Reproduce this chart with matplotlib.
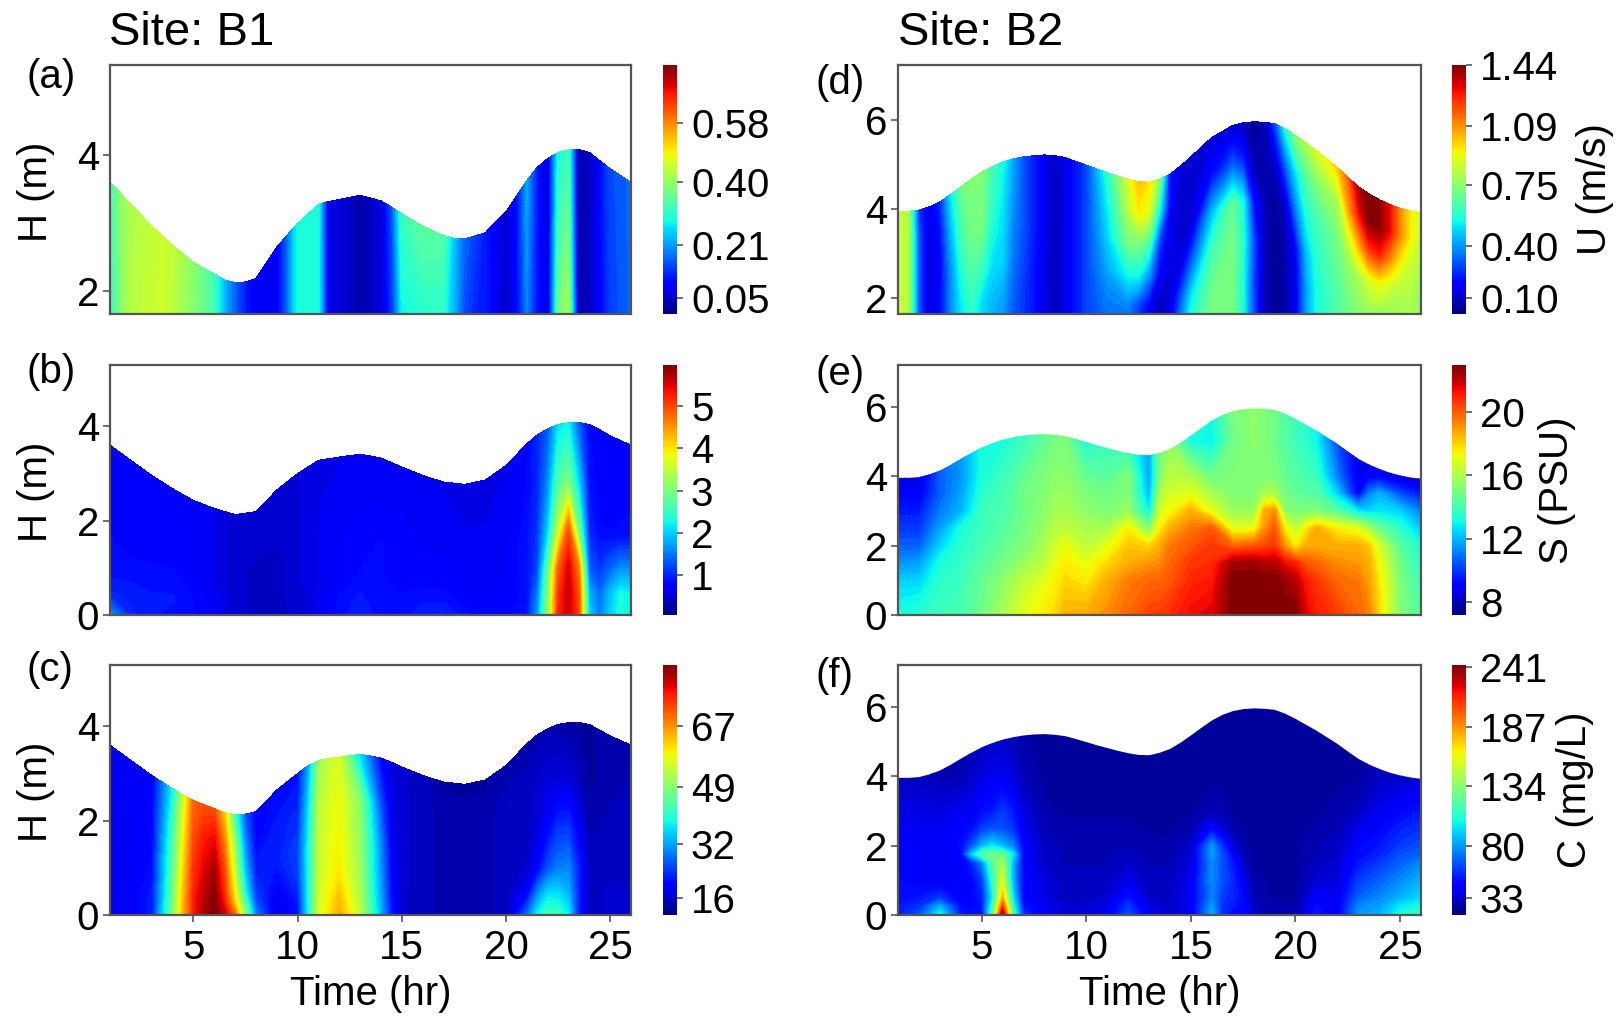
import numpy as np
import matplotlib
matplotlib.use('Agg')
import matplotlib.pyplot as plt
from matplotlib.patches import Polygon
from matplotlib.cm import ScalarMappable
from matplotlib.colors import Normalize

plt.rcParams['font.family'] = ['Liberation Sans', 'DejaVu Sans']

# half hourly water depth at both sites, t = 1 .. 26
depth_t = [1 + i * 0.5 for i in range(51)]
depth_b1 = [3.60, 3.44, 3.28, 3.12, 2.96, 2.82, 2.68, 2.55, 2.43, 2.34, 2.26, 2.17, 2.13, 2.14, 2.19, 2.38, 2.65,
            2.83, 3.00, 3.17, 3.28, 3.32, 3.35, 3.39, 3.41, 3.39, 3.33, 3.24, 3.14, 3.05, 2.96, 2.88, 2.82, 2.78,
            2.77, 2.79, 2.86, 2.99, 3.17, 3.40, 3.63, 3.82, 3.95, 4.04, 4.08, 4.08, 4.04, 3.93, 3.80, 3.70, 3.60]
depth_b2 = [3.95, 3.95, 3.97, 4.05, 4.16, 4.32, 4.50, 4.67, 4.83, 4.95, 5.05, 5.12, 5.17, 5.20, 5.21, 5.19, 5.15,
            5.07, 4.98, 4.89, 4.81, 4.73, 4.66, 4.61, 4.60, 4.67, 4.78, 4.96, 5.17, 5.39, 5.60, 5.76, 5.87, 5.93,
            5.95, 5.94, 5.91, 5.80, 5.65, 5.48, 5.31, 5.12, 4.93, 4.71, 4.50, 4.34, 4.21, 4.10, 4.02, 3.96, 3.92]

# panel a: one row per time, values from bed to surface (fraction of depth)
a_t = [1, 1.5, 2, 3, 3.5, 4, 5, 5.5, 6, 6.5, 7, 7.5, 8, 9, 9.5, 10, 11, 11.5, 12, 13, 14, 14.5, 15, 16, 17, 17.5,
       18, 19, 20, 20.5, 21, 21.5, 22, 22.5, 23, 23.5, 24, 25, 26]
a_sigma = [0, 1]
a_vals = [[.27, .32], [.38, .39], [.44, .42], [.45, .44], [.45, .45], [.42, .44], [.38, .39], [.36, .36], [.33, .32],
          [.23, .23], [.17, .17], [.11, .11], [.08, .08], [.08, .08], [.17, .17], [.29, .29], [.30, .29], [.06, .06],
          [.06, .06], [.03, .03], [.06, .06], [.11, .15], [.23, .32], [.24, .35], [.26, .34], [.21, .24], [.12, .17],
          [.11, .11], [.04, .05], [.08, .10], [.17, .22], [.10, .11], [.06, .06], [.42, .29], [.50, .32], [.03, .03],
          [.04, .04], [.13, .15], [.17, .17]]

# panel b
b_t = [1, 2, 3, 4, 5, 6, 7, 8, 9, 10, 11, 12, 13, 14, 15, 16, 17, 18, 19, 20, 21, 21.5, 22, 22.5, 23, 23.5, 24, 24.5,
       25, 25.5, 26]
b_sigma = [0, .12, .25, .45, .7, 1]
b_vals = [[1.7, 1.0, .85, .8, .75, .7], [1.0, .95, .85, .75, .75, .7], [.9, .9, .85, .75, .7, .7],
          [.85, .9, .85, .75, .7, .7], [.8, .8, .75, .7, .7, .65], [.7, .65, .6, .6, .6, .6],
          [.45, .45, .45, .45, .45, .45], [.4, .4, .4, .4, .45, .45], [.4, .4, .4, .4, .45, .45],
          [.45, .45, .5, .5, .5, .5], [.6, .6, .6, .6, .6, .6], [.85, .8, .7, .7, .65, .6],
          [.95, .9, .8, .75, .7, .6], [.85, .8, .8, .8, .7, .6], [.85, .8, .75, .75, .7, .6],
          [.95, .85, .75, .7, .65, .6], [1.0, .85, .75, .7, .65, .6], [.85, .75, .7, .65, .6, .6],
          [.7, .7, .65, .65, .6, .6], [.75, .7, .7, .7, .65, .6], [.9, .85, .85, .85, .8, .75],
          [1.7, 1.5, 1.2, 1.1, 1.0, 1.0], [3.2, 3.0, 2.8, 2.0, 1.6, 1.3], [5.2, 5.1, 4.8, 3.5, 2.7, 2.1],
          [5.6, 5.6, 5.5, 4.9, 3.0, 2.2], [5.0, 4.9, 4.6, 2.9, 2.0, 1.3], [2.0, 1.8, 1.3, 1.0, .85, .8],
          [1.5, 1.4, 1.1, .8, .75, .7], [2.0, 1.9, 1.4, .8, .7, .7], [2.3, 2.3, 1.7, .85, .7, .7],
          [2.2, 2.2, 1.7, .9, .7, .7]]

# panel c
c_t = [1, 2, 3, 3.5, 4, 4.5, 5, 5.5, 6, 6.5, 7, 7.5, 8, 9, 10, 10.5, 11, 11.5, 12, 13, 14, 14.5, 15, 16, 17, 18, 19,
       20, 21, 21.5, 22, 22.5, 23, 23.5, 24, 25, 26]
c_sigma = [0, .12, .25, .45, .7, 1]
c_vals = [[19, 19, 19, 19, 19, 19], [19, 19, 19, 19, 19, 19], [22, 22, 21, 20, 20, 19], [35, 34, 33, 32, 30, 28],
          [48, 47, 46, 44, 42, 38], [64, 63, 62, 60, 58, 54], [76, 76, 75, 74, 72, 70], [82, 81, 80, 78, 76, 72],
          [85, 85, 84, 82, 78, 72], [80, 76, 74, 72, 68, 62], [70, 62, 58, 54, 50, 42], [50, 44, 38, 34, 30, 26],
          [30, 26, 24, 22, 20, 20], [17, 18, 20, 22, 22, 20], [21, 22, 24, 25, 23, 21], [38, 38, 38, 38, 36, 32],
          [56, 55, 54, 54, 53, 50], [60, 59, 58, 57, 56, 54], [65, 63, 60, 59, 58, 56], [54, 52, 51, 50, 49, 36],
          [33, 32, 31, 30, 26, 20], [22, 21, 20, 19, 18, 17], [16, 16, 16, 16, 16, 16], [15, 15, 15, 15, 15, 15],
          [14, 14, 14, 14, 14, 13], [14, 14, 14, 14, 14, 13], [14, 14, 14, 14, 14, 13], [15, 15, 15, 15, 15, 14],
          [28, 20, 16, 15, 15, 14], [38, 30, 20, 17, 16, 14], [43, 36, 26, 20, 17, 14], [42, 36, 29, 24, 17, 14],
          [38, 33, 30, 24, 17, 13], [22, 22, 22, 19, 15, 13], [15, 15, 15, 14, 13, 13], [16, 16, 15, 15, 14, 14],
          [16, 16, 15, 15, 15, 14]]

# panel d
d_t = [1, 1.5, 2, 2.5, 3, 3.5, 4, 4.5, 5, 5.5, 6, 6.5, 7, 8, 8.5, 9, 10, 11, 12, 12.5, 13, 13.5, 14, 14.5, 15, 16, 17,
       17.5, 18, 18.5, 19, 19.5, 20, 20.5, 21, 22, 22.5, 23, 23.5, 24, 24.5, 25, 25.5, 26]
d_sigma = [.25, .4, .55, .7, .85, 1]
d_vals = [[.87, .87, .87, .87, .87, .87], [.80, .80, .80, .80, .80, .80], [.30, .30, .30, .30, .30, .25],
          [.12, .12, .12, .12, .12, .15], [.18, .18, .18, .18, .20, .25], [.37, .37, .37, .40, .45, .50],
          [.51, .51, .55, .60, .65, .70], [.55, .60, .65, .70, .72, .73], [.50, .50, .60, .70, .72, .73],
          [.42, .45, .50, .55, .60, .62], [.40, .42, .48, .50, .52, .55], [.30, .32, .35, .37, .40, .42],
          [.26, .26, .28, .30, .30, .30], [.14, .14, .14, .15, .15, .15], [.08, .08, .08, .08, .08, .10],
          [.14, .14, .14, .14, .14, .14], [.28, .28, .28, .28, .28, .28], [.32, .36, .42, .48, .52, .58],
          [.30, .38, .55, .72, .82, .88], [.22, .28, .55, .72, .95, 1.02], [.14, .18, .40, .65, .90, .96],
          [.08, .08, .18, .28, .55, .75], [.15, .12, .12, .14, .18, .20], [.40, .30, .14, .10, .10, .12],
          [.60, .50, .30, .12, .10, .10], [.72, .70, .62, .45, .20, .12], [.72, .72, .72, .68, .32, .10],
          [.55, .55, .58, .55, .25, .08], [.30, .28, .30, .20, .06, .04], [.08, .08, .08, .08, .06, .06],
          [.04, .04, .04, .04, .10, .28], [.06, .06, .06, .10, .30, .55], [.15, .15, .18, .35, .50, .75],
          [.40, .40, .45, .55, .65, .80], [.55, .55, .58, .62, .72, .88], [.65, .65, .68, .72, .80, 1.00],
          [.70, .70, .74, .85, 1.05, 1.15], [.75, .75, .80, 1.02, 1.25, 1.38], [.78, .78, .88, 1.20, 1.42, 1.44],
          [.78, .78, .92, 1.25, 1.42, 1.43], [.76, .76, .86, 1.10, 1.30, 1.30], [.78, .78, .82, .95, 1.10, 1.10],
          [.80, .80, .82, .85, .95, .95], [.75, .75, .75, .80, .85, .85]]

# panel e: one row per time, values at fixed heights
e_t = [1, 2, 3, 4, 5, 6, 7, 8, 8.5, 9, 10, 11, 12, 13, 13.5, 14, 15, 16, 17, 18, 18.5, 19, 19.5, 20, 20.5, 21, 22, 23,
       23.5, 24, 25, 26]
e_z = [0, 1, 1.5, 2, 2.5, 3, 3.5, 4, 5, 6]
e_vals = [[13.2, 12.4, 11.4, 10.6, 10, 9.5, 9, 8.7, 8.7, 8.7], [13.5, 12.4, 11.6, 10.6, 10, 9.5, 8.9, 8.4, 8.4, 8.4],
          [13.8, 13.5, 13.2, 12.4, 11.6, 11, 10.6, 10.6, 10.6, 10.6],
          [14.1, 13.8, 13.6, 13.5, 13.2, 11.9, 11.6, 11.4, 11.6, 11.6],
          [14.8, 14.6, 14.3, 14, 13.8, 13.8, 13.5, 13.2, 13.2, 13.2],
          [15.9, 15.4, 14.9, 14.6, 14.3, 14.1, 14, 13.8, 13.2, 13.2],
          [17, 16.3, 15.6, 15.1, 14.9, 14.8, 14.8, 14.6, 13.8, 13.8],
          [17.6, 17, 16.3, 15.9, 15.6, 15.4, 15.2, 15.1, 14.6, 14.6],
          [17.9, 17.5, 17, 16.7, 16.2, 15.7, 15.6, 15.4, 14.9, 14.9],
          [18.6, 17.9, 17.6, 17.1, 16.3, 15.9, 15.6, 15.4, 15.1, 15.1],
          [18.7, 17.6, 17, 16.3, 15.9, 15.4, 15.1, 14.6, 13.2, 13.2],
          [19.2, 18.6, 17.9, 17, 15.9, 15.1, 14.8, 14.4, 13.8, 13.8],
          [19.8, 19.4, 18.6, 18.2, 17.5, 15.6, 15.2, 15.1, 13.5, 13.5],
          [20.5, 19.8, 19, 17.9, 15.1, 12.9, 11.9, 11.6, 11.6, 11.6],
          [20.6, 19.8, 19.2, 18.6, 17.5, 16.7, 15.9, 15.1, 15.1, 15.1],
          [20.8, 20.1, 19.8, 19.5, 18.6, 17.3, 16.7, 16.3, 15.4, 15.4],
          [21.4, 20.9, 20.6, 20.1, 19.5, 18.6, 17, 16, 13.2, 13.2],
          [21.7, 21.1, 20.8, 20.6, 20.1, 17, 15.9, 14.8, 12.9, 13.2],
          [23, 23, 22.5, 19.8, 17, 15.6, 15.2, 15.1, 14.8, 15.1],
          [23, 23, 22.6, 20.1, 17.1, 15.6, 15.2, 15.1, 15.4, 15.4],
          [23, 23, 22.2, 20.3, 19, 18.6, 16, 15.1, 15.1, 15.1],
          [23, 23, 22.2, 20.6, 20.1, 19.2, 15.9, 15.1, 14.8, 14.8],
          [23, 22.6, 21.4, 19, 17.5, 15.4, 14.9, 14.6, 14.3, 14.3],
          [23, 22.2, 21, 17.5, 16.3, 15.1, 14.6, 14.3, 13.8, 13.8],
          [21.7, 21.1, 20.1, 18.6, 17.6, 15.1, 14.4, 14, 13.5, 13.5],
          [21.1, 20.6, 19.8, 18.7, 18.6, 15.1, 14.3, 13.8, 13, 13],
          [20.6, 19.8, 19.2, 18.6, 17.5, 14.3, 12.4, 11.1, 10.3, 10.3],
          [19.8, 19.5, 19, 18.6, 17, 12.7, 9, 8.7, 8.7, 8.7],
          [19.4, 18.9, 18.6, 18.2, 15.9, 12.4, 11.1, 9, 8.7, 8.7],
          [17.9, 17.6, 17.3, 16.7, 14.8, 12.7, 11.9, 9, 8.7, 8.7],
          [15.1, 15.1, 14.8, 14.4, 13.5, 12.4, 10.3, 8.4, 8.4, 8.4],
          [14.3, 13.8, 13.5, 13.2, 12.2, 11.1, 9.5, 7.9, 7.9, 7.9]]

# panel f
f_t = [1, 2, 3, 4, 4.5, 5, 5.5, 6, 6.5, 7, 8, 9, 10, 11, 12, 13, 14, 15, 16, 16.5, 17, 17.5, 18, 19, 20, 21, 22, 23,
       24, 25, 26]
f_z = [0, .25, .5, 1, 1.5, 1.75, 2, 2.5, 3, 4, 6]
f_vals = [[52, 50, 47, 47, 45, 45, 45, 40, 38, 30, 24], [63, 56, 50, 43, 43, 43, 43, 40, 38, 30, 24],
          [104, 85, 58, 40, 40, 40, 40, 40, 36, 28, 24], [52, 47, 43, 43, 45, 45, 47, 45, 40, 28, 24],
          [47, 45, 45, 45, 52, 90, 63, 47, 40, 32, 24], [47, 50, 52, 58, 74, 119, 85, 58, 47, 36, 24],
          [119, 108, 97, 108, 119, 126, 97, 63, 50, 40, 24], [243, 209, 180, 157, 142, 126, 85, 63, 58, 40, 24],
          [119, 108, 97, 85, 85, 97, 74, 56, 50, 36, 24], [58, 50, 45, 45, 45, 45, 45, 40, 36, 28, 24],
          [40, 40, 36, 36, 32, 30, 30, 28, 26, 24, 24], [34, 34, 30, 30, 28, 28, 28, 26, 24, 24, 24],
          [34, 34, 30, 30, 28, 28, 28, 26, 24, 24, 24], [40, 38, 34, 30, 28, 28, 28, 26, 24, 24, 24],
          [63, 58, 50, 38, 32, 30, 28, 26, 24, 24, 24], [40, 36, 32, 30, 28, 26, 26, 24, 24, 24, 24],
          [34, 32, 32, 30, 28, 26, 26, 24, 24, 24, 24], [40, 40, 40, 40, 36, 34, 32, 28, 24, 24, 24],
          [85, 81, 74, 76, 76, 81, 79, 45, 28, 24, 24], [56, 56, 58, 63, 63, 63, 56, 36, 26, 24, 24],
          [47, 50, 54, 54, 50, 45, 36, 28, 24, 24, 24], [47, 47, 47, 40, 32, 28, 26, 24, 24, 24, 24],
          [30, 30, 28, 26, 24, 24, 24, 24, 24, 22, 22], [26, 26, 24, 24, 24, 24, 24, 22, 22, 22, 22],
          [26, 26, 24, 24, 24, 24, 24, 22, 22, 22, 22], [52, 47, 43, 34, 30, 28, 28, 26, 24, 24, 22],
          [40, 40, 40, 36, 34, 30, 30, 28, 26, 24, 22], [79, 76, 67, 58, 50, 47, 45, 38, 30, 24, 22],
          [85, 81, 76, 67, 58, 52, 50, 45, 40, 30, 22], [104, 97, 85, 76, 67, 63, 58, 52, 45, 32, 22],
          [112, 104, 94, 85, 76, 67, 63, 56, 50, 34, 22]]

W, H = 1619, 1021
GREY = '#555555'


def box(x0, y0, x1, y1):
    # pixel box, y from the top, to figure coordinates
    return [x0 / W, 1 - y1 / H, (x1 - x0) / W, (y1 - y0) / H]


fig = plt.figure(figsize=(W / 100, H / 100), dpi=100)
rows = [(65, 314), (365, 615), (665, 915)]
col_x = [(110, 631), (898, 1421)]
bar_x = [(663, 677), (1452, 1466)]

panels = [
    # col, row, letter, t, levels, values, vmin, vmax, fixed heights, ylim, yticks, bar ticks, bar labels
    (0, 0, '(a)', a_t, a_sigma, a_vals, 0, .757, False, (1.67, 5.32), [2, 4], [.05, .21, .40, .58],
     ['0.05', '0.21', '0.40', '0.58']),
    (0, 1, '(b)', b_t, b_sigma, b_vals, .05, 5.98, False, (0, 5.3), [0, 2, 4], [1, 2, 3, 4, 5],
     ['1', '2', '3', '4', '5']),
    (0, 2, '(c)', c_t, c_sigma, c_vals, 11, 85, False, (0, 5.3), [0, 2, 4], [16, 32, 49, 67],
     ['16', '32', '49', '67']),
    (1, 0, '(d)', d_t, d_sigma, d_vals, .01, 1.44, False, (1.65, 7.22), [2, 4, 6], [.10, .40, .75, 1.09, 1.44],
     ['0.10', '0.40', '0.75', '1.09', '1.44']),
    (1, 1, '(e)', e_t, e_z, e_vals, 7.15, 23, True, (0, 7.2), [0, 2, 4, 6], [8, 12, 16, 20],
     ['8', '12', '16', '20']),
    (1, 2, '(f)', f_t, f_z, f_vals, 18, 243, True, (0, 7.2), [0, 2, 4, 6], [33, 80, 134, 187, 241],
     ['33', '80', '134', '187', '241']),
]

for col, row, letter, t, lev, vals, vmin, vmax, fixed, ylim, yticks, bticks, blabels in panels:
    depth = np.array(depth_b1 if col == 0 else depth_b2)
    ax = fig.add_axes(box(col_x[col][0], rows[row][0], col_x[col][1], rows[row][1]))
    t = np.array(t, dtype=float)
    vals = np.array(vals, dtype=float)
    levels = np.linspace(vmin, vmax, 65)
    if fixed:
        # heights are fixed, cut the field off at the water surface
        cs = ax.contourf(t, lev, vals.T, levels=levels, cmap='jet', extend='both')
        surf = Polygon(list(zip(depth_t, depth)) + [(26, 0), (1, 0)], transform=ax.transData, fc='none', ec='none')
        ax.add_patch(surf)
        cs.set_clip_path(surf)
    else:
        # levels are fractions of the local depth
        h = depth[((t - 1) * 2).astype(int)]
        X = np.tile(t, (len(lev), 1))
        Y = np.outer(lev, h)
        cs = ax.contourf(X, Y, vals.T, levels=levels, cmap='jet', extend='both')
    ax.set_xlim(1, 26)
    ax.set_ylim(*ylim)
    ax.set_yticks(yticks)
    ax.tick_params(axis='y', labelsize=29, length=5, width=1.2, color=GREY, pad=3)
    if row == 2:
        ax.set_xticks([5, 10, 15, 20, 25])
        ax.tick_params(axis='x', labelsize=29, length=5, width=1.2, color=GREY, pad=5)
        ax.set_xlabel('Time (hr)', fontsize=29, labelpad=6)
    else:
        ax.set_xticks([])
    for s in ax.spines.values():
        s.set_color(GREY)
        s.set_linewidth(1.6)

    cax = fig.add_axes(box(bar_x[col][0], rows[row][0], bar_x[col][1], rows[row][1]))
    cb = fig.colorbar(ScalarMappable(Normalize(vmin, vmax), cmap='jet'), cax=cax)
    cb.set_ticks(bticks)
    cb.set_ticklabels(blabels)
    cb.minorticks_off()
    cb.ax.tick_params(labelsize=29, length=4, width=1.2, color=GREY, pad=6)
    cb.outline.set_visible(False)

    lx = 26 if col == 0 else 815
    ly = [77, 372, 670][row] if col == 0 else [83, 374, 676][row]
    fig.text(lx / W, 1 - ly / H, letter, fontsize=29, ha='left', va='center')
    if col == 0:
        fig.text(36 / W, 1 - (rows[row][0] + 127) / H, 'H (m)', fontsize=29, rotation=90, ha='center', va='center')

fig.text(109 / W, 1 - 33 / H, 'Site: B1', fontsize=34, ha='left', va='center')
fig.text(898 / W, 1 - 33 / H, 'Site: B2', fontsize=34, ha='left', va='center')
fig.text(1595 / W, 1 - 189 / H, 'U (m/s)', fontsize=29, rotation=90, ha='center', va='center')
fig.text(1557 / W, 1 - 490 / H, 'S (PSU)', fontsize=29, rotation=90, ha='center', va='center')
fig.text(1575 / W, 1 - 790 / H, 'C (mg/L)', fontsize=29, rotation=90, ha='center', va='center')

fig.savefig('out.png', dpi=100)
